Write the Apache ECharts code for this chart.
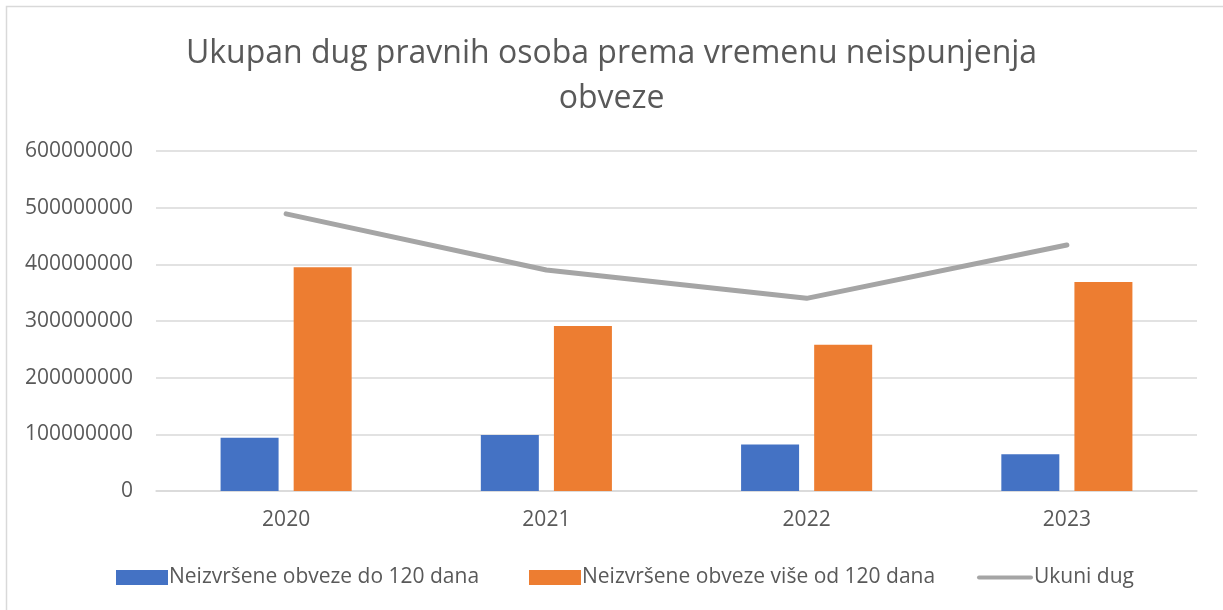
<!DOCTYPE html>
<html>
<head>
<meta charset="utf-8">
<script src="https://cdn.jsdelivr.net/npm/echarts@6/dist/echarts.min.js"></script>
<style>
  html, body { margin: 0; padding: 0; background: #fff; }
  #main { width: 1223px; height: 610px; }
</style>
</head>
<body>
<div id="main"></div>
<script>
var years = ['2020', '2021', '2022', '2023'];
var doStoDvadeset = [94000000, 99000000, 82000000, 65000000];
var viseOdStoDvadeset = [395000000, 291000000, 258000000, 369000000];
var ukupniDug = [489000000, 390000000, 340000000, 434000000];
var yTicks = [0, 100000000, 200000000, 300000000, 400000000, 500000000, 600000000];

var seriesNames = ['Neizvršene obveze do 120 dana', 'Neizvršene obveze više od 120 dana', 'Ukuni dug'];
var fontFam = '"Open Sans", "Noto Sans", sans-serif';
var textColor = '#595959';

var myChart = echarts.init(document.getElementById('main'));

function legendAt (name, left, w, h, icon) {
  return {
    data: [{ name: name, icon: icon }],
    left: left,
    top: 562,
    itemWidth: w,
    itemHeight: h,
    itemGap: 0,
    textStyle: {
      color: textColor,
      fontSize: 21,
      fontFamily: fontFam,
      padding: [0, 0, 0, -4]
    }
  }
}

var option = {
  animation: false,
  backgroundColor: '#fff',
  title: {
    text: 'Ukupan dug pravnih osoba prema vremenu neispunjenja\nobveze',
    left: 'center',
    top: 26,
    textStyle: {
      color: textColor,
      fontSize: 32,
      fontWeight: 'normal',
      fontFamily: fontFam,
      lineHeight: 45
    }
  },
  graphic: [{
    type: 'rect',
    shape: { x: 6.5, y: 6.5, width: 1400, height: 800 },
    style: { fill: 'none', stroke: '#d9d9d9', lineWidth: 1.5 },
    silent: true
  }],
  legend: [
    legendAt(seriesNames[0], 111, 52, 15, 'rect'),
    legendAt(seriesNames[1], 524, 52, 15, 'rect'),
    legendAt(seriesNames[2], 972, 56, 15, 'path://M2,6 L54,6 A2,2 0 0 1 54,10 L2,10 A2,2 0 0 1 2,6 Z')
  ],
  grid: {
    left: 156,
    right: 26,
    top: 151,
    bottom: 119
  },
  xAxis: {
    type: 'category',
    data: years,
    axisTick: { show: false },
    axisLine: { lineStyle: { color: '#d9d9d9', width: 1.5 } },
    axisLabel: {
      color: textColor,
      fontSize: 21,
      fontFamily: fontFam,
      margin: 19
    }
  },
  yAxis: {
    type: 'value',
    min: yTicks[0],
    max: yTicks[yTicks.length - 1],
    interval: yTicks[1] - yTicks[0],
    axisLine: { show: false },
    axisTick: { show: false },
    splitLine: { lineStyle: { color: '#d9d9d9', width: 1.5 } },
    axisLabel: {
      color: textColor,
      fontSize: 21,
      fontFamily: fontFam,
      margin: 23,
      formatter: function (v) { return String(v) }
    }
  },
  series: [{
    name: seriesNames[0],
    type: 'bar',
    data: doStoDvadeset,
    barWidth: 58,
    barGap: '26%',
    itemStyle: { color: '#4472c4' }
  }, {
    name: seriesNames[1],
    type: 'bar',
    data: viseOdStoDvadeset,
    barWidth: 58,
    barGap: '26%',
    itemStyle: { color: '#ed7d31' }
  }, {
    name: seriesNames[2],
    type: 'line',
    data: ukupniDug,
    symbol: 'none',
    lineStyle: { color: '#a5a5a5', width: 5, cap: 'round' },
    itemStyle: { color: '#a5a5a5' }
  }]
}
myChart.setOption(option);
</script>
</body>
</html>
